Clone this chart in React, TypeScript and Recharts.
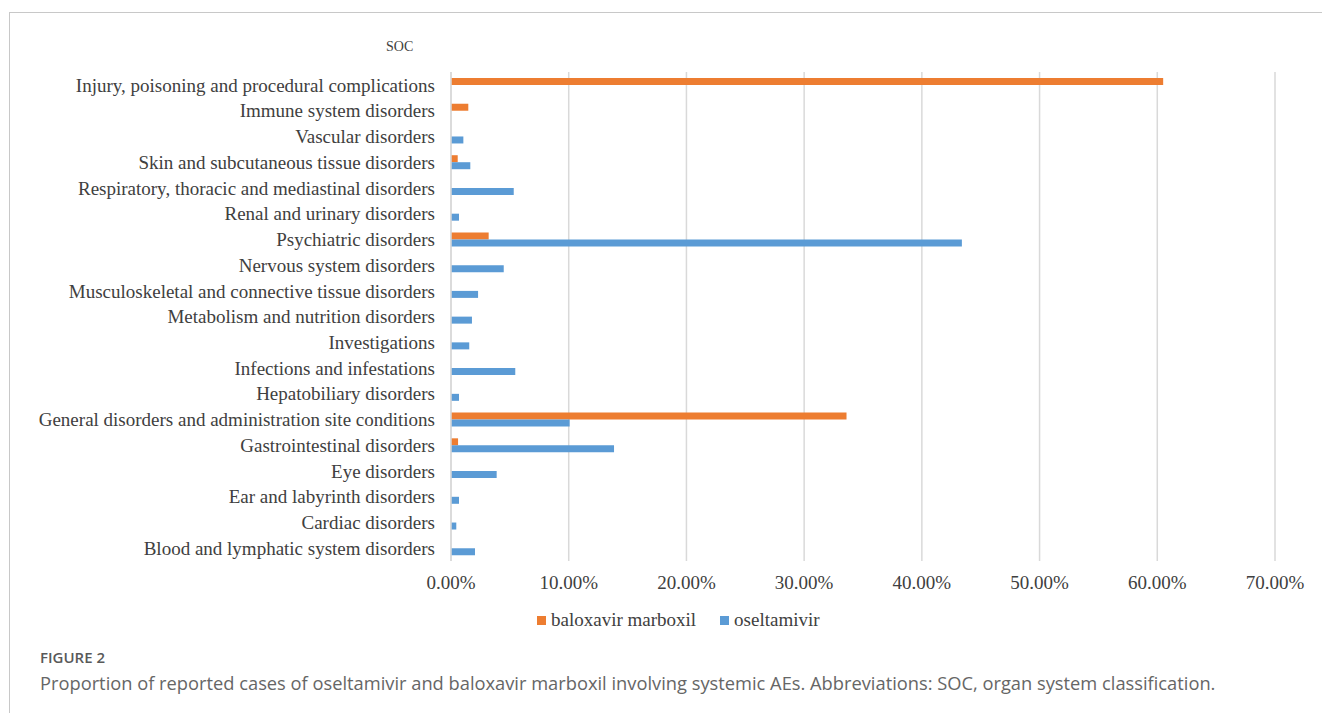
import React from "react";
import { Bar, BarChart, CartesianGrid, Legend, XAxis, YAxis } from "recharts";

const categories = [
  "Injury, poisoning and procedural complications",
  "Immune system disorders",
  "Vascular disorders",
  "Skin and subcutaneous tissue disorders",
  "Respiratory, thoracic and mediastinal disorders",
  "Renal and urinary disorders",
  "Psychiatric disorders",
  "Nervous system disorders",
  "Musculoskeletal and connective tissue disorders",
  "Metabolism and nutrition disorders",
  "Investigations",
  "Infections and infestations",
  "Hepatobiliary disorders",
  "General disorders and administration site conditions",
  "Gastrointestinal disorders",
  "Eye disorders",
  "Ear and labyrinth disorders",
  "Cardiac disorders",
  "Blood and lymphatic system disorders",
];

// percent of reported cases, top row first
const baloxavir = [60.5, 1.47, null, 0.57, null, null, 3.2, null, null, null, null, null, null, 33.6, 0.6, null, null, null, null];
const oseltamivir = [null, null, 1.05, 1.64, 5.33, 0.68, 43.4, 4.48, 2.3, 1.78, 1.55, 5.46, 0.68, 10.08, 13.85, 3.88, 0.68, 0.45, 2.04];

const xTicks = [0, 10, 20, 30, 40, 50, 60, 70];

const series = [
  { key: "baloxavir", name: "baloxavir marboxil", color: "#ED7D31" },
  { key: "oseltamivir", name: "oseltamivir", color: "#5B9BD5" },
];

const data = categories.map((name, i) => ({
  name,
  baloxavir: baloxavir[i],
  oseltamivir: oseltamivir[i],
}));

const serif = '"Liberation Serif", "Times New Roman", serif';
const textColor = "#404040";

function ChartLegend() {
  return (
    <div style={{ height: 30, display: "flex", alignItems: "center", paddingLeft: 537, fontFamily: serif, fontSize: 19, color: textColor }}>
      {series.map((s) => (
        <span key={s.key} style={{ display: "flex", alignItems: "center", marginRight: 24 }}>
          <span style={{ width: 9, height: 9, background: s.color, marginRight: 5, display: "inline-block" }} />
          {s.name}
        </span>
      ))}
    </div>
  );
}

export default function App() {
  return (
    <div style={{ position: "absolute", left: 0, top: 0, width: 1322, height: 713, overflow: "hidden", background: "#fff" }}>
      <div style={{ position: "absolute", left: 9, top: 12, width: 1400, height: 800, border: "1.5px solid #c8c8c8" }} />
      <BarChart
        width={1322}
        height={645}
        data={data}
        layout="vertical"
        margin={{ top: 72, right: 47, left: 0, bottom: 10 }}
        barGap={0}
        barSize={7}
        style={{ position: "absolute", left: 0, top: 0 }}
      >
        <CartesianGrid horizontal={false} stroke="#d9d9d9" strokeWidth={1.5} />
        <XAxis
          type="number"
          domain={[0, 70]}
          ticks={xTicks}
          tickFormatter={(v) => v.toFixed(2) + "%"}
          axisLine={false}
          tickLine={false}
          tickSize={0}
          tickMargin={15}
          height={44}
          tick={{ fontFamily: serif, fontSize: 19, fill: textColor }}
        />
        <YAxis
          type="category"
          dataKey="name"
          width={451}
          interval={0}
          tickLine={false}
          tickSize={0}
          tickMargin={16}
          axisLine={{ stroke: "#d9d9d9", strokeWidth: 1.5 }}
          tick={{ fontFamily: serif, fontSize: 19, fill: textColor }}
        />
        <Legend verticalAlign="bottom" content={() => <ChartLegend />} />
        {series.map((s) => (
          <Bar key={s.key} dataKey={s.key} name={s.name} fill={s.color} isAnimationActive={false} />
        ))}
      </BarChart>
      <div style={{ position: "absolute", left: 386, top: 39, fontFamily: serif, fontSize: 14, color: textColor, lineHeight: "16px" }}>
        SOC
      </div>
      <div style={{ position: "absolute", left: 40, top: 647, fontFamily: '"Open Sans", sans-serif', fontSize: 15, fontWeight: 600, color: "#595959" }}>
        FIGURE 2
      </div>
      <div style={{ position: "absolute", left: 40, top: 670, fontFamily: '"Open Sans", sans-serif', fontSize: 18.3, color: "#666" }}>
        Proportion of reported cases of oseltamivir and baloxavir marboxil involving systemic AEs. Abbreviations: SOC, organ system classification.
      </div>
    </div>
  );
}
